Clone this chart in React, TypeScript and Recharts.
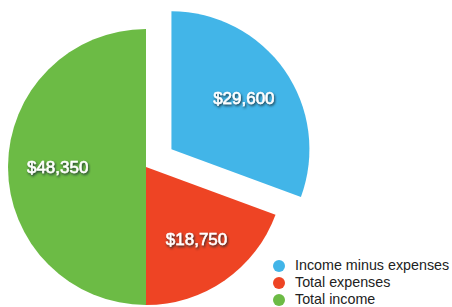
import React from "react";
import { PieChart, Pie, Cell, Legend } from "recharts";

const categories = ["Income minus expenses", "Total expenses", "Total income"];
const values = [29600, 18750, 48350];
const labels = ["$29,600", "$18,750", "$48,350"];
const colors = ["#42b5e8", "#ee4424", "#6cbb45"];

const data = categories.map((name, i) => ({ name, value: values[i], label: labels[i] }));

const RADIAN = Math.PI / 180;
const CX = 146;
const CY = 167;
const R = 138;
const EXPLODE = 31;

const total = values.reduce((a, b) => a + b, 0);
const blueMid = 90 - ((values[0] / total) * 360) / 2;
const dx = EXPLODE * Math.cos(blueMid * RADIAN);
const dy = -EXPLODE * Math.sin(blueMid * RADIAN);

const makeLabel = (show: (i: number) => boolean) => (props: any) => {
  const { cx, cy, midAngle, outerRadius, index } = props;
  if (!show(index)) return null;
  const r = outerRadius * 0.64;
  const x = cx + r * Math.cos(-midAngle * RADIAN);
  const y = cy + r * Math.sin(-midAngle * RADIAN);
  const fid = `shadow-${index}`;
  return (
    <g>
      <defs>
        <filter id={fid} x="-20%" y="-50%" width="140%" height="200%">
          <feDropShadow dx="1" dy="1.5" stdDeviation="1" floodColor="#142530" floodOpacity="0.9" />
        </filter>
      </defs>
      <text
        x={x}
        y={y}
        fill="#ffffff"
        stroke="#ffffff"
        strokeWidth={0.5}
        textAnchor="middle"
        dominantBaseline="central"
        fontFamily="'Liberation Sans', Arial, sans-serif"
        fontSize={17}
        filter={`url(#${fid})`}
      >
        {data[index].label}
      </text>
    </g>
  );
};

const renderLegend = () => (
  <div style={{ fontFamily: "'Liberation Sans', Arial, sans-serif", fontSize: 14.3, color: "#222" }}>
    {categories.map((c, i) => (
      <div key={c} style={{ display: "flex", alignItems: "center", height: 17, lineHeight: "17px" }}>
        <span
          style={{
            display: "inline-block",
            width: 12,
            height: 12,
            borderRadius: 6,
            background: colors[i],
            marginRight: 10,
          }}
        />
        <span>{c}</span>
      </div>
    ))}
  </div>
);

export default function App() {
  return (
    <div style={{ position: "absolute", left: 0, top: 0, background: "#fff" }}>
      <PieChart width={452} height={307} margin={{ top: 0, right: 0, bottom: 0, left: 0 }}>
        <Pie
          data={data}
          dataKey="value"
          nameKey="name"
          cx={CX}
          cy={CY}
          outerRadius={R}
          startAngle={90}
          endAngle={-270}
          stroke="none"
          isAnimationActive={false}
          labelLine={false}
          label={makeLabel((i) => i !== 0)}
        >
          {data.map((d, i) => (
            <Cell key={d.name} fill={i === 0 ? "transparent" : colors[i]} />
          ))}
        </Pie>
        <Pie
          data={data}
          dataKey="value"
          nameKey="name"
          cx={CX + dx}
          cy={CY + dy}
          outerRadius={R}
          startAngle={90}
          endAngle={-270}
          stroke="none"
          isAnimationActive={false}
          labelLine={false}
          legendType="none"
          label={makeLabel((i) => i === 0)}
        >
          {data.map((d, i) => (
            <Cell key={d.name} fill={i === 0 ? colors[0] : "transparent"} />
          ))}
        </Pie>
        <Legend
          content={renderLegend}
          wrapperStyle={{ position: "absolute", left: 273, top: 257, width: 180, bottom: "auto" }}
        />
      </PieChart>
    </div>
  );
}
